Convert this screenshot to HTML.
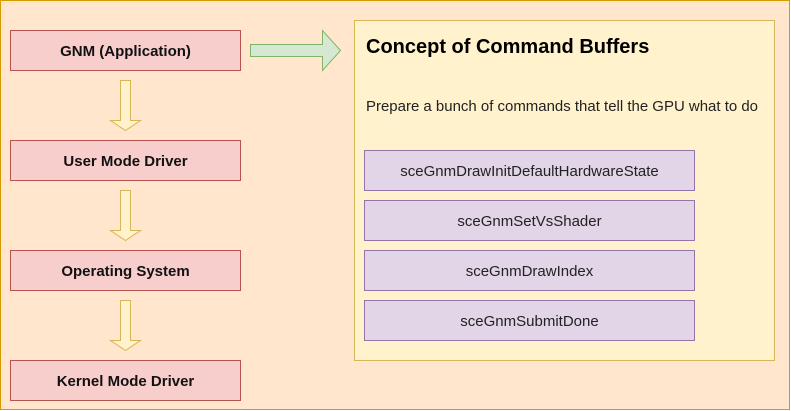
<!DOCTYPE html>
<html><head><meta charset="utf-8"><style>
html,body{margin:0;padding:0;background:#fff}
svg{display:block}
text{font-family:"Liberation Sans",Arial,sans-serif}
</style></head><body>
<svg width="791" height="411" viewBox="0 0 791 411" xmlns="http://www.w3.org/2000/svg">
<rect x="0.5" y="0.5" width="789" height="409" fill="#ffe6cc" stroke="#d79b00"/>
<g fill="#f8cecc" stroke="#b85450">
<rect x="10.5" y="30.5" width="230" height="40"/>
<rect x="10.5" y="140.5" width="230" height="40"/>
<rect x="10.5" y="250.5" width="230" height="40"/>
<rect x="10.5" y="360.5" width="230" height="40"/>
</g>
<g font-size="15" font-weight="bold" text-anchor="middle" fill="#111">
<text x="125.5" y="56">GNM (Application)</text>
<text x="125.5" y="166">User Mode Driver</text>
<text x="125.5" y="276">Operating System</text>
<text x="125.5" y="386">Kernel Mode Driver</text>
</g>
<g fill="#fff2cc" stroke="#d6b656">
<path d="M120.5 80.5 H130.5 V120.5 H140.5 L125.5 130.5 L110.5 120.5 H120.5 Z"/>
<path d="M120.5 190.5 H130.5 V230.5 H140.5 L125.5 240.5 L110.5 230.5 H120.5 Z"/>
<path d="M120.5 300.5 H130.5 V340.5 H140.5 L125.5 350.5 L110.5 340.5 H120.5 Z"/>
</g>
<path d="M250.5 44.5 H322.5 V30.5 L340.5 50.5 L322.5 70.5 V56.5 H250.5 Z" fill="#d5e8d4" stroke="#82b366"/>
<rect x="354.5" y="20.5" width="420" height="340" fill="#fff2cc" stroke="#d6b656"/>
<text x="366" y="53" font-size="20" font-weight="bold" fill="#000">Concept of Command Buffers</text>
<text x="366" y="111" font-size="15" fill="#222" textLength="392" lengthAdjust="spacingAndGlyphs">Prepare a bunch of commands that tell the GPU what to do</text>
<g fill="#e1d5e7" stroke="#9673a6">
<rect x="364.5" y="150.5" width="330" height="40"/>
<rect x="364.5" y="200.5" width="330" height="40"/>
<rect x="364.5" y="250.5" width="330" height="40"/>
<rect x="364.5" y="300.5" width="330" height="40"/>
</g>
<g font-size="15" text-anchor="middle" fill="#222">
<text x="529.5" y="176">sceGnmDrawInitDefaultHardwareState</text>
<text x="529.5" y="226">sceGnmSetVsShader</text>
<text x="529.5" y="276">sceGnmDrawIndex</text>
<text x="529.5" y="326">sceGnmSubmitDone</text>
</g>
</svg>
</body></html>
